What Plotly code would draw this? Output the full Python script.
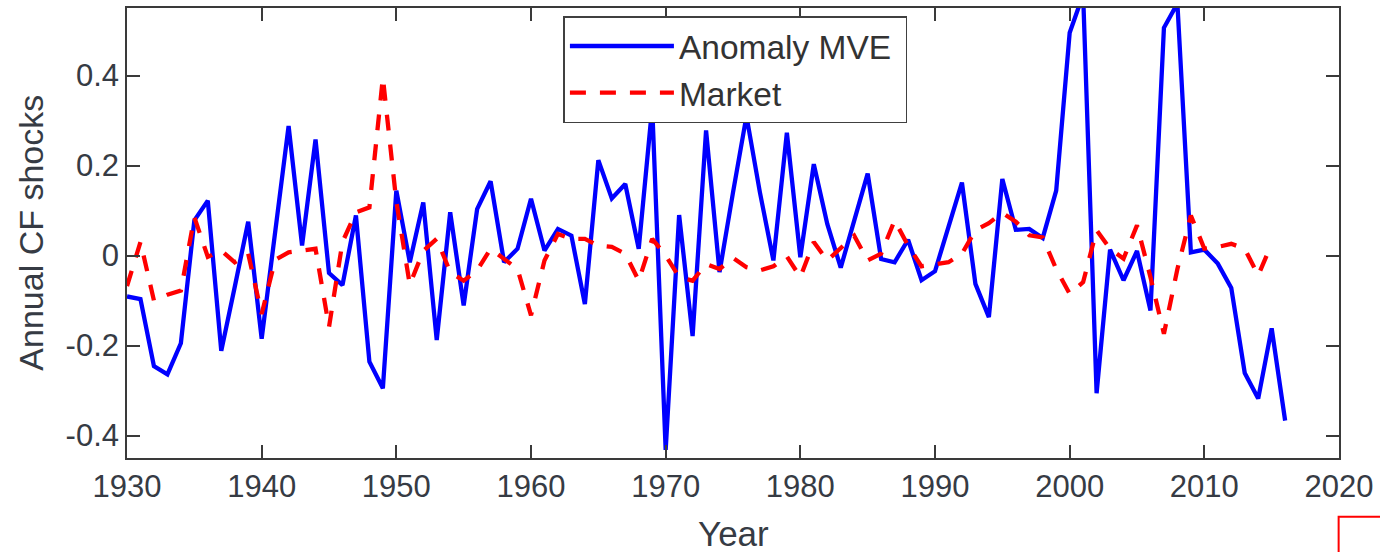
import plotly.graph_objects as go

years_mve = list(range(1930, 2017))
anomaly_mve = [
    -0.091, -0.097, -0.246, -0.264, -0.195, 0.078, 0.122, -0.212, -0.070, 0.075,
    -0.185, 0.050, 0.288, 0.022, 0.258, -0.039, -0.066, 0.089, -0.236, -0.295,
    0.144, -0.015, 0.118, -0.188, 0.096, -0.111, 0.103, 0.165, -0.015, 0.015,
    0.126, 0.011, 0.059, 0.044, -0.108, 0.212, 0.127, 0.159, 0.015, 0.330,
    -0.432, 0.090, -0.179, 0.278, -0.037, 0.140, 0.310, 0.140, -0.011, 0.273,
    -0.004, 0.203, 0.070, -0.027, 0.080, 0.182, -0.008, -0.015, 0.035, -0.055,
    -0.035, 0.064, 0.162, -0.063, -0.137, 0.170, 0.057, 0.059, 0.039, 0.144,
    0.495, 0.580, -0.306, 0.013, -0.055, 0.010, -0.122, 0.506, 0.560, 0.007,
    0.013, -0.018, -0.072, -0.261, -0.318, -0.162, -0.367,
]

years_mkt = list(range(1930, 2016))
market = [
    -0.068, 0.030, -0.100, -0.087, -0.078, 0.085, -0.003, 0.011, -0.015, 0.004,
    -0.130, -0.010, 0.007, 0.011, 0.015, -0.159, 0.030, 0.096, 0.107, 0.395,
    0.120, -0.065, 0.010, 0.037, -0.037, -0.056, -0.033, 0.015, -0.007, -0.030,
    -0.133, -0.011, 0.048, 0.037, 0.037, 0.022, 0.019, 0.004, -0.056, 0.037,
    0.000, -0.048, -0.056, -0.019, -0.030, -0.005, -0.026, -0.033, -0.024, -0.002,
    -0.048, 0.030, -0.011, 0.015, 0.044, -0.011, 0.004, 0.078, 0.022, -0.024,
    -0.020, -0.015, 0.004, 0.056, 0.072, 0.095, 0.075, 0.045, 0.040, -0.030,
    -0.085, -0.059, 0.056, 0.015, -0.007, 0.067, -0.048, -0.174, -0.030, 0.089,
    0.015, 0.019, 0.026, 0.015, -0.044, 0.026,
]

series_names = ["Anomaly MVE\u00a0", "Market"]
x_ticks = [1930, 1940, 1950, 1960, 1970, 1980, 1990, 2000, 2010, 2020]
y_ticks = [-0.4, -0.2, 0.0, 0.2, 0.4]
y_tick_text = ["-0.4", "-0.2", "0", "0.2", "0.4"]

FONT = "Liberation Sans, Arial, Helvetica, sans-serif"
AXC = "#3a3a3a"
TXT = "#363b44"

fig = go.Figure()
fig.add_trace(go.Scatter(
    x=years_mve, y=anomaly_mve, mode="lines", name=series_names[0],
    line=dict(color="#0000ff", width=4.3),
))
fig.add_trace(go.Scatter(
    x=years_mkt, y=market, mode="lines", name=series_names[1],
    line=dict(color="#ff0000", width=4.3, dash="16px,14px"),
))

axis_common = dict(
    showline=True, linecolor=AXC, linewidth=1.6, mirror="ticks",
    ticks="inside", ticklen=13, tickwidth=1.6, tickcolor=AXC,
    showgrid=False, zeroline=False,
    tickfont=dict(family=FONT, size=31, color=TXT),
)

fig.update_xaxes(range=[1930, 2020], tickvals=x_ticks,
                 ticktext=[str(v) for v in x_ticks], **axis_common)
fig.update_yaxes(range=[-0.45, 0.55], tickvals=y_ticks, ticktext=y_tick_text,
                 **axis_common)

fig.update_layout(
    width=1380, height=552, autosize=False,
    margin=dict(l=127, r=41, t=6, b=94, pad=0),
    plot_bgcolor="white", paper_bgcolor="white",
    showlegend=True,
    legend=dict(
        x=0.36, y=0.982, xanchor="left", yanchor="top",
        bgcolor="white", bordercolor="#404040", borderwidth=1.6,
        font=dict(family=FONT, size=33.5, color="#333333"),
        itemwidth=104, tracegroupgap=0,
    ),
    annotations=[
        dict(text="Annual CF shocks", xref="paper", yref="paper",
             x=-0.0795, y=0.5, xanchor="center", yanchor="middle",
             textangle=-90, showarrow=False,
             font=dict(family=FONT, size=34, color=TXT)),
        dict(text="Year", xref="paper", yref="paper",
             x=0.5, y=-0.168, xanchor="center", yanchor="middle",
             showarrow=False,
             font=dict(family=FONT, size=35, color=TXT)),
    ],
    shapes=[
        dict(type="rect", xref="paper", yref="paper",
             x0=0.9997, x1=1.06, y0=-0.1305, y1=-0.35,
             line=dict(color="#ff0000", width=2), fillcolor="rgba(0,0,0,0)"),
    ],
)

fig.write_html("out.html")
